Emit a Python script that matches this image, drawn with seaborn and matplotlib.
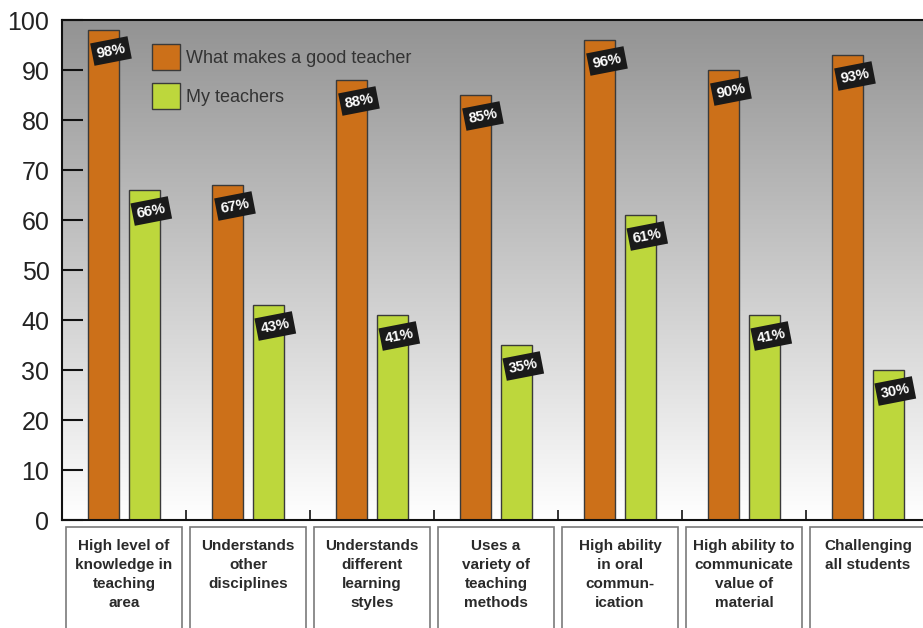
import numpy as np
import pandas as pd
import seaborn as sns
import matplotlib.pyplot as plt
from matplotlib.patches import Rectangle
import matplotlib.transforms as mtransforms

categories = [
    "High level of\nknowledge in\nteaching\narea",
    "Understands\nother\ndisciplines",
    "Understands\ndifferent\nlearning\nstyles",
    "Uses a\nvariety of\nteaching\nmethods",
    "High ability\nin oral\ncommun-\nication",
    "High ability to\ncommunicate\nvalue of\nmaterial",
    "Challenging\nall students",
]
series_names = ["What makes a good teacher", "My teachers"]
good_teacher = [98, 67, 88, 85, 96, 90, 93]
my_teachers = [66, 43, 41, 35, 61, 41, 30]
y_ticks = [0, 10, 20, 30, 40, 50, 60, 70, 80, 90, 100]
colors = ["#cc7019", "#bdd73c"]

df = pd.DataFrame({
    "category": categories * 2,
    "series": [series_names[0]] * 7 + [series_names[1]] * 7,
    "value": good_teacher + my_teachers,
})

sns.set_style("white")
plt.rcParams['font.family'] = ['Liberation Sans', 'DejaVu Sans']

fig = plt.figure(figsize=(9.23, 6.28), dpi=100)
# axes runs past the right edge of the figure, like the reference crop
ax = fig.add_axes([62 / 923, 108 / 628, 868 / 923, 500 / 628])

# gray to white gradient background
grad = np.linspace(0, 1, 256).reshape(-1, 1)
ax.imshow(grad, extent=[-0.5, 6.5, 0, 100], aspect='auto', origin='upper',
          cmap=sns.blend_palette(["#939393", "#ffffff"], as_cmap=True),
          zorder=0)

sns.barplot(data=df, x="category", y="value", hue="series", palette=colors,
            width=0.66, gap=0.24, edgecolor="#3a3a3a", linewidth=1,
            saturation=1, ax=ax, zorder=2)

ax.set_xlim(-0.5, 6.5)
ax.set_ylim(0, 100)
ax.set_xlabel("")
ax.set_ylabel("")
ax.set_yticks(y_ticks)
ax.tick_params(axis='y', direction='in', length=15, width=1.5, pad=9,
               labelsize=18, labelcolor="#222222", color="#111111", left=True)
ax.set_xticks([])
ax.set_xticks(np.arange(0.5, 6.5, 1), minor=True)
ax.tick_params(axis='x', which='minor', direction='in', length=7, width=1.2,
               bottom=True, color="#111111")
for side in ["left", "bottom", "top"]:
    ax.spines[side].set_color("#111111")
    ax.spines[side].set_linewidth(1.5)
ax.spines["right"].set_visible(False)

# value tags
offsets = [-0.155, 0.17]
for s, vals in enumerate([good_teacher, my_teachers]):
    for i, v in enumerate(vals):
        ax.text(i + offsets[s] + 0.05, v - 4.2, f"{v}%", color="white",
                fontsize=10.5, fontweight="bold", rotation=11,
                ha="center", va="center", rotation_mode="anchor", zorder=5,
                bbox=dict(boxstyle="square,pad=0.3", fc="#1a1a1a", ec="none"))

# category boxes below the axis
trans = mtransforms.blended_transform_factory(ax.transData, ax.transAxes)
for i, cat in enumerate(categories):
    ax.add_patch(Rectangle((i - 0.47, -0.3), 0.94, 0.286, transform=trans,
                           fill=False, ec="#7a7a7a", lw=1.2, clip_on=False))
    ax.text(i, -0.038, cat, transform=trans, ha="center", va="top",
            fontsize=11, fontweight="bold", color="#2a2a2a",
            linespacing=1.45, clip_on=False)

leg = ax.legend(loc="upper left", bbox_to_anchor=(0.104, 0.952), frameon=False,
                fontsize=13, handlelength=1.55, handleheight=1.8,
                labelspacing=0.75, handletextpad=0.3, borderpad=0,
                borderaxespad=0)
for t in leg.get_texts():
    t.set_color("#333333")

fig.savefig("out.png", dpi=100)
